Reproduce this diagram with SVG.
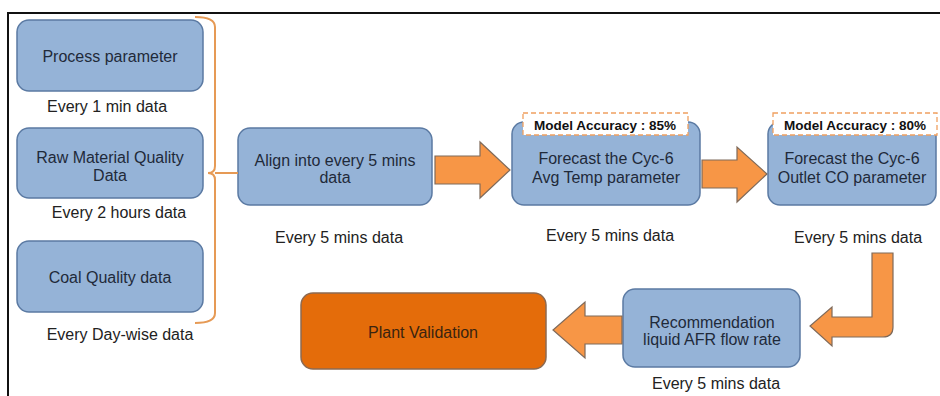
<svg xmlns="http://www.w3.org/2000/svg" width="940" height="396" viewBox="0 0 940 396">
<style>
.box{fill:#95b3d7;stroke:#5b7aa3;stroke-width:1.5}
.bt{font-family:"Liberation Sans",Arial,sans-serif;font-size:16px;fill:#1f2a3a;text-anchor:middle}
.lt{font-family:"Liberation Sans",Arial,sans-serif;font-size:16px;fill:#222;text-anchor:middle}
.acc{fill:#fff;stroke:#f0a060;stroke-width:1.3;stroke-dasharray:5,3}
.at{font-family:"Liberation Sans",Arial,sans-serif;font-size:13.5px;font-weight:bold;fill:#111;text-anchor:middle}
.arr{fill:#f79646;stroke:#7f6a5a;stroke-width:1.2}
</style>
<rect width="940" height="396" fill="#fff"/>
<path d="M8,396 L8,13 L940,13" fill="none" stroke="#111" stroke-width="2"/>

<g id="process">
<rect class="box" x="17" y="20" width="186" height="71" rx="12"/>
<text class="bt" x="110" y="62">Process parameter</text>
<text class="lt" x="107" y="112">Every 1 min data</text>
</g>
<g id="rawmaterial">
<rect class="box" x="17" y="128" width="186" height="70" rx="12"/>
<text class="bt" x="110" y="163">Raw Material Quality</text>
<text class="bt" x="110" y="181">Data</text>
<text class="lt" x="119" y="218">Every 2 hours data</text>
</g>
<g id="coal">
<rect class="box" x="17" y="241" width="186" height="71" rx="12"/>
<text class="bt" x="110" y="283">Coal Quality data</text>
<text class="lt" x="120" y="340">Every Day-wise data</text>
</g>
<g id="align">
<rect class="box" x="238" y="128" width="194" height="77" rx="12"/>
<text class="bt" x="335" y="166">Align into every 5 mins</text>
<text class="bt" x="335" y="183">data</text>
<text class="lt" x="339" y="243">Every 5 mins data</text>
</g>
<g id="forecast1">
<rect class="box" x="512" y="122" width="188" height="83" rx="12"/>
<text class="bt" x="606" y="164">Forecast the Cyc-6</text>
<text class="bt" x="606" y="183">Avg Temp parameter</text>
<rect class="acc" x="523" y="113" width="165" height="22"/>
<text class="at" x="605" y="130">Model Accuracy : 85%</text>
<text class="lt" x="610" y="241">Every 5 mins data</text>
</g>
<g id="forecast2">
<rect class="box" x="768" y="122" width="168" height="83" rx="12"/>
<text class="bt" x="852" y="164">Forecast the Cyc-6</text>
<text class="bt" x="852" y="183">Outlet CO parameter</text>
<rect class="acc" x="773" y="113" width="164" height="22"/>
<text class="at" x="855" y="130">Model Accuracy : 80%</text>
<text class="lt" x="858" y="243">Every 5 mins data</text>
</g>
<g id="recommendation">
<rect class="box" x="623" y="289" width="177" height="78" rx="12"/>
<text class="bt" x="712" y="328">Recommendation</text>
<text class="bt" x="712" y="345">liquid AFR flow rate</text>
<text class="lt" x="716" y="389">Every 5 mins data</text>
</g>
<g id="plant">
<rect x="301" y="293" width="245" height="76" rx="12" fill="#e46c0a" stroke="#8c6a52" stroke-width="1.5"/>
<text class="bt" x="423" y="338" style="fill:#3a2410">Plant Validation</text>
</g>

<g id="connectors">
<path d="M195,17 Q215,17 215,27 L215,166 Q215,173 208,173 Q215,173 215,180 L215,313 Q215,323 195,323" fill="none" stroke="#e69a55" stroke-width="2"/>
<line x1="215" y1="173" x2="238" y2="173" stroke="#e69a55" stroke-width="2"/>
<path class="arr" d="M435,156 L480,156 L480,142 L510,170 L480,198 L480,184 L435,184 Z"/>
<path class="arr" d="M702,160 L737,160 L737,147 L767,174 L737,202 L737,188 L702,188 Z"/>
<path class="arr" d="M872,253 L893,253 L893,327 Q893,337 883,337 L832,337 L832,346 L810,326 L832,307 L832,317 L872,317 Z"/>
<path class="arr" d="M622,316 L585,316 L585,302 L553,330 L585,358 L585,344 L622,344 Z"/>
</g>
</svg>
